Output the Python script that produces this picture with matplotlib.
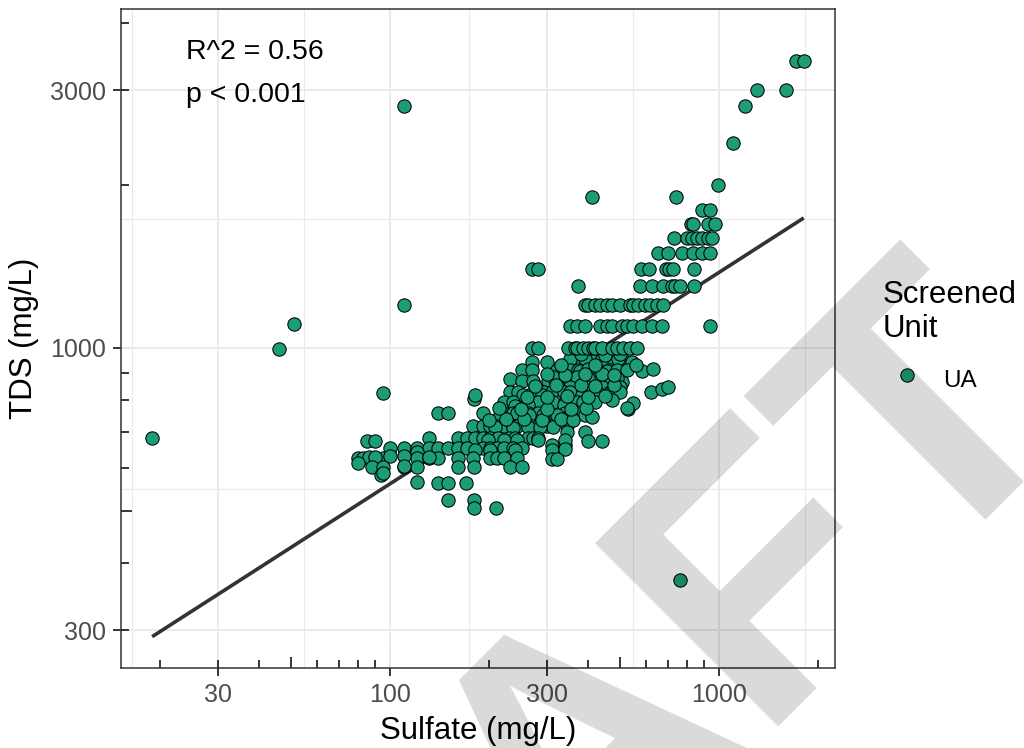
import numpy as np
import matplotlib
matplotlib.use('Agg')
import matplotlib.pyplot as plt
from matplotlib.ticker import NullFormatter, NullLocator

plt.rcParams['font.family'] = ['Liberation Sans', 'DejaVu Sans']

# isolated points (sulfate mg/L, TDS mg/L)
out_so4 = [18.9, 46, 51, 110, 110, 95, 411, 740, 990, 760,
           1710, 1810, 1300, 1600, 1200, 1100]
out_tds = [681, 996, 1107, 2810, 1200, 825, 1900, 1900, 2000, 372,
           3400, 3400, 3000, 3000, 2800, 2400]

# TDS reported in round hundreds -> horizontal bands
band_tds = [1000, 1100, 1200, 1300, 1400, 1500, 1600, 1700, 1800]
band_so4 = [
    [270, 282, 348, 365, 370, 386, 400, 414, 420, 441, 473, 490, 511, 536, 563],
    [352, 370, 391, 435, 457, 473, 507, 525, 548, 583, 626, 671, 939],
    [391, 400, 420, 435, 457, 473, 500, 536, 548, 567, 596, 617, 648, 676],
    [373, 575, 626, 676, 720, 735, 761, 840],
    [270, 282, 580, 612, 690, 705, 725, 840],
    [652, 700, 772, 834, 888, 939],
    [730, 800, 828, 857, 888, 926, 952],
    [822, 834, 926, 973],
    [888, 939],
]

# main cloud below 1000 mg/L TDS
cloud_so4 = [270, 300, 370, 414, 466, 511, 544, 352, 391, 441, 493,
             252, 270, 322, 352, 373, 426, 466, 583, 630, 378, 400, 457, 490, 525,
             232, 252, 272, 303, 322, 345, 386, 426, 460, 507, 313, 370, 400, 490,
             324, 352, 397, 441, 500, 466,
             232, 245, 272, 294, 310, 337, 352, 400, 426, 473, 500, 622, 671, 700, 180,
             181, 254, 290, 383, 420,
             222, 237, 262, 282, 313, 340, 370, 386, 420, 473, 529, 548,
             240, 262, 337, 525,
             140, 150, 191, 221, 237, 243, 262, 282, 303, 340, 373,
             216, 264, 292, 322, 352, 391,
             179, 191, 201, 212, 222, 237, 243, 262, 272, 282, 300, 345, 391, 400, 441,
             208, 313, 236, 262, 286, 345,
             85, 90, 131, 161, 171, 181, 192, 201, 213, 230, 240, 262, 272, 282, 310, 340,
             198, 222, 243, 282, 340,
             100, 110, 121, 131, 140, 150, 161, 171, 191, 201, 212, 222, 237, 252, 121,
             181, 201, 240, 310, 340,
             80, 83, 88, 95, 121, 131, 140, 161, 179, 201, 212, 222, 243, 310, 322,
             86, 90, 100, 110, 131,
             80, 88, 95, 110, 121, 161, 180, 232, 252, 110,
             94, 95, 121, 140, 150, 170, 150, 180, 180, 210,
             200, 225, 255, 290, 330, 360, 410, 215, 250, 300, 355, 395,
             260, 300, 345, 400, 450, 275, 320, 380, 420, 480,
             300, 340, 390, 440, 480, 330, 420, 560, 380, 450, 500]
cloud_tds = [942, 942, 958, 950, 950, 950, 942, 955, 955, 955, 955,
             910, 910, 910, 910, 910, 910, 910, 905, 915, 905, 915, 905, 910, 910,
             876, 870, 870, 870, 865, 865, 865, 865, 865, 865, 885, 885, 880, 880,
             847, 847, 847, 847, 847, 829,
             829, 829, 829, 829, 829, 829, 829, 829, 829, 829, 829, 830, 838, 845, 804,
             818, 818, 818, 818, 818,
             794, 794, 794, 794, 794, 794, 794, 794, 794, 800, 770, 790,
             780, 784, 784, 775,
             758, 758, 758, 758, 758, 758, 758, 758, 758, 758, 758,
             752, 752, 752, 752, 752, 752,
             717, 717, 717, 717, 717, 717, 717, 717, 717, 717, 717, 717, 700, 673, 673,
             714, 714, 710, 714, 714, 699,
             673, 673, 681, 681, 681, 681, 681, 681, 681, 681, 681, 681, 681, 681, 661, 661,
             676, 676, 676, 676, 676,
             653, 653, 653, 653, 653, 653, 653, 653, 653, 653, 653, 653, 653, 653, 642,
             647, 647, 647, 647, 650,
             625, 625, 625, 625, 625, 625, 625, 625, 625, 625, 625, 625, 625, 623, 623,
             628, 628, 631, 631, 628,
             612, 602, 602, 602, 602, 602, 602, 602, 602, 605,
             582, 587, 565, 562, 562, 562, 523, 523, 505, 505,
             735, 740, 738, 735, 740, 735, 745, 775, 770, 772, 772, 775,
             810, 812, 815, 812, 815, 850, 855, 855, 850, 855,
             895, 892, 895, 895, 890, 930, 930, 930, 975, 970, 975]

# lm fit on log-log, drawn over the sulfate range
fit_so4 = [18.9, 1810]
fit_tds = [292, 1741]

x_breaks = [30, 100, 300, 1000]
y_breaks = [300, 1000, 3000]
x_lim = [15.2, 2252]
y_lim = [255.5, 4243]

so4 = list(out_so4) + cloud_so4
tds = list(out_tds) + cloud_tds
for t, row in zip(band_tds, band_so4):
    so4 += row
    tds += [t] * len(row)


def minor_breaks(b):
    # ggplot style: midway between breaks in log space
    lb = np.log10(b)
    d = lb[1] - lb[0]
    ext = np.concatenate([[lb[0] - d], lb, [lb[-1] + d]])
    return 10 ** ((ext[:-1] + ext[1:]) / 2)


def logticks(lim):
    dec = 10.0 ** np.arange(0, 5)
    short = [d * k for d in dec for k in (2, 3, 4, 6, 7, 8, 9)]
    short = [v for v in short if lim[0] <= v <= lim[1]]
    mid = [d * 5 for d in dec if lim[0] <= d * 5 <= lim[1]]
    long_ = [d for d in dec if lim[0] <= d <= lim[1]]
    return short, mid, long_


fig = plt.figure(figsize=(10.24, 7.48), dpi=100)
ax = fig.add_axes([121 / 1024, 80 / 748, 714 / 1024, 659 / 748])
ax.set_xscale('log')
ax.set_yscale('log')
ax.set_xlim(x_lim)
ax.set_ylim(y_lim)

ax.plot(fit_so4, fit_tds, color='#333333', lw=2.6, zorder=2, solid_capstyle='butt')
sc = ax.scatter(so4, tds, s=92, c='#1B9E77', edgecolors='black', linewidths=0.75,
                zorder=3, label='UA')

# grid
ax.set_axisbelow(True)
ax.grid(which='major', color='#EBEBEB', lw=1.4)
for v in minor_breaks(x_breaks):
    ax.axvline(v, color='#EBEBEB', lw=0.8, zorder=0.4)
for v in minor_breaks(y_breaks):
    ax.axhline(v, color='#EBEBEB', lw=0.8, zorder=0.4)

# ticks: labelled breaks outside, log ticks inside
ax.set_xticks(x_breaks, [str(v) for v in x_breaks])
ax.set_yticks(y_breaks, [str(v) for v in y_breaks])
xs, xm, xl = logticks(x_lim)
ys, ym, yl = logticks(y_lim)
ax.set_xticks(xs, minor=True)
ax.set_yticks(ys, minor=True)
ax.xaxis.set_minor_formatter(NullFormatter())
ax.yaxis.set_minor_formatter(NullFormatter())
ax.xaxis.remove_overlapping_locs = False
ax.yaxis.remove_overlapping_locs = False
ax.tick_params(which='major', direction='out', length=6, width=1.1, color='black',
               labelsize=18, labelcolor='#4D4D4D', pad=5)
ax.tick_params(which='minor', direction='in', length=5.5, width=1.1, color='black')

for ticks, ln in ((xm, 8), (xl, 11)):
    sec = ax.secondary_xaxis('bottom')
    sec.set_xticks(ticks, [''] * len(ticks))
    sec.xaxis.set_minor_locator(NullLocator())
    sec.tick_params(direction='in', length=ln, width=1.1, color='black')
    sec.spines['bottom'].set_visible(False)
for ticks, ln in ((ym, 8), (yl, 11)):
    sec = ax.secondary_yaxis('left')
    sec.set_yticks(ticks, [''] * len(ticks))
    sec.yaxis.set_minor_locator(NullLocator())
    sec.tick_params(direction='in', length=ln, width=1.1, color='black')
    sec.spines['left'].set_visible(False)

for s in ax.spines.values():
    s.set_color('#333333')
    s.set_linewidth(1.1)

ax.set_xlabel('Sulfate (mg/L)', fontsize=22.5, labelpad=6)
ax.set_ylabel('TDS (mg/L)', fontsize=22.5, labelpad=8)

ax.text(0.091, 0.935, 'R^2 = 0.56', transform=ax.transAxes, fontsize=20.5,
        ha='left', va='center')
ax.text(0.091, 0.870, 'p < 0.001', transform=ax.transAxes, fontsize=20.5,
        ha='left', va='center')

leg = ax.legend(handles=[sc], labels=['UA'], title='Screened\nUnit', loc='upper left',
                bbox_to_anchor=(0.862, 0.626), bbox_transform=fig.transFigure,
                frameon=False, fontsize=17.5, title_fontsize=22.5, alignment='left',
                scatterpoints=1, scatteryoffsets=[0.25], handleheight=2.5,
                handletextpad=0.5, borderpad=0, borderaxespad=0)

# DRAFT stamp
fig.text(0.173, -0.740, 'DRAFT', fontsize=271, fontweight='bold', rotation=45,
         ha='left', va='baseline', rotation_mode='anchor', color='black',
         alpha=0.15, zorder=10)

fig.savefig('out.png', dpi=100)
